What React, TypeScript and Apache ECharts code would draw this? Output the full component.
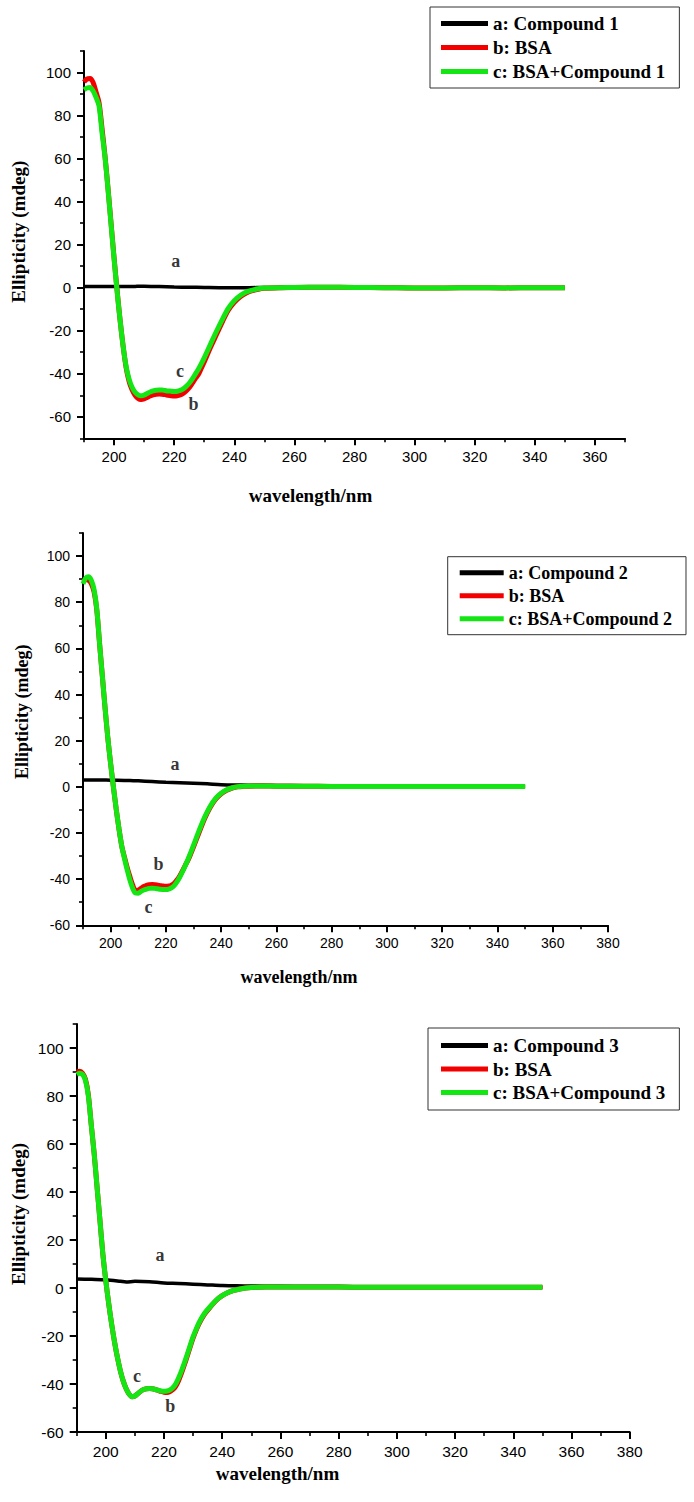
import React, { useEffect, useRef } from "react";
import * as echarts from "echarts";

// ---------- data ----------
const WL = [190,191,192,193,194,195,196,197,198,199,200,201,202,203,204,205,206,207,208,209,210,211,212,213,214,215,216,217,218,219,220,221,222,223,224,225,226,227,228,229,230,232,234,236,238,240,242,244,246,248,250,255,260,270,280,290,300,310,320,330,340,350];
const WL_A = [190,195,200,205,207,210,215,220,225,230,235,240,245,250,260,270,280,290,300,310,320,330,340,350];

// Panel 1
const P1_A = [0.6,0.5,0.5,0.5,0.6,0.7,0.5,0.3,0.2,0.1,0,0,0,0.1,0.1,0.2,0.2,0.1,0,-0.1,0,0,0,0];
const P1_B = [95.6,97,97.2,95.5,91,86,74,61,46,30,14,-1,-15,-27,-37,-43.5,-47.5,-50,-51.5,-52,-51.7,-51,-50.3,-49.8,-49.5,-49.4,-49.5,-49.7,-50,-50.2,-50.3,-50.2,-49.8,-49.1,-48,-46.5,-44.5,-42.3,-40.5,-37.5,-34.5,-28,-22,-16,-10.5,-6.8,-4.2,-2.5,-1.4,-0.7,-0.3,0,0.1,0.2,0.1,0,-0.2,-0.1,0,-0.1,0,0];
const P1_C = [92,92.8,93,91.5,88.5,84.5,72,60.5,45.5,29.5,13.5,-1.5,-15,-27,-36.5,-42.5,-46.3,-48.6,-49.8,-50.2,-49.9,-49.2,-48.5,-48,-47.7,-47.6,-47.6,-47.8,-48,-48.1,-48.2,-48.1,-47.7,-47,-45.9,-44.4,-42.5,-40.3,-38,-35.4,-32.6,-26.5,-20.5,-14.8,-9.6,-6,-3.6,-2,-1.1,-0.5,-0.2,0,0.1,0.2,0.1,0,-0.1,-0.1,0,-0.1,0,0];

// Panel 2
const P2_A = [3,3,2.9,2.8,2.7,2.6,2.3,2,1.8,1.6,1.3,0.9,0.8,0.7,0.6,0.5,0.4,0.4,0.3,0.3,0.3,0.3,0.2,0.2];
const P2_B = [89,89.8,89.5,88,84.5,76.5,62,48,34,21,10,0,-9.5,-18,-25.5,-30.5,-35,-39,-42.6,-44.9,-44.8,-44,-43.2,-42.7,-42.4,-42.3,-42.4,-42.6,-42.8,-43,-43.1,-43,-42.6,-41.8,-40.4,-38.6,-36.4,-34,-31.8,-29,-26,-19.8,-13.8,-9,-5.4,-3,-1.5,-0.5,0,0.2,0.3,0.4,0.3,0.3,0.2,0.1,0.1,0.1,0.2,0.1,0.1,0.1];
const P2_C = [88,90.5,91,89.5,85.5,77,62,48,34,21,10,0,-9.5,-18,-25.5,-31,-36,-40.5,-44,-46,-46.1,-45.3,-44.7,-44.3,-44,-43.9,-44,-44.2,-44.4,-44.5,-44.5,-44.3,-43.8,-42.8,-41.2,-39.2,-36.8,-34.2,-31.4,-28.4,-25.3,-19,-13.2,-8.5,-5,-2.8,-1.3,-0.4,0.1,0.3,0.4,0.4,0.3,0.3,0.2,0.1,0.1,0.1,0.2,0.1,0.1,0.1];

// Panel 3
const P3_A = [3.8,3.6,3.4,2.8,2.5,2.8,2.6,2.1,1.9,1.6,1.3,1,0.9,0.8,0.7,0.6,0.6,0.5,0.4,0.4,0.5,0.4,0.4,0.3];
const P3_B = [90,90.3,89.5,87,80.5,68,56,42,28,14,3,-6.5,-15,-22.5,-29,-34.5,-38.8,-42,-44.2,-45.3,-45,-44,-43,-42.3,-42,-41.9,-42,-42.3,-42.7,-43.1,-43.4,-43.5,-43.2,-42.4,-41,-38.6,-35.5,-32,-28.3,-24.5,-20.8,-15,-10.8,-7.8,-5.1,-3.2,-1.9,-1,-0.4,0,0.2,0.4,0.4,0.4,0.4,0.3,0.3,0.3,0.3,0.3,0.3,0.3];
const P3_C = [89,89.5,89,86.5,80,68,56,42,28,14,3,-6.5,-15,-22.5,-29,-34.5,-38.8,-42,-44.2,-45.3,-45,-44,-43,-42.3,-42,-41.9,-42,-42.3,-42.6,-42.9,-43,-42.9,-42.5,-41.6,-40,-37.5,-34.5,-31.2,-27.6,-23.9,-20.3,-14.5,-10.4,-7.6,-5,-3.2,-1.9,-1,-0.4,0,0.2,0.4,0.4,0.4,0.4,0.3,0.3,0.3,0.3,0.3,0.3,0.3];

const NAMES_1 = ["a: Compound 1", "b: BSA", "c: BSA+Compound 1"];
const NAMES_2 = ["a: Compound 2", "b: BSA", "c: BSA+Compound 2"];
const NAMES_3 = ["a: Compound 3", "b: BSA", "c: BSA+Compound 3"];

const LBL_1 = [{ name: "a", value: [220.5, 12.4] }, { name: "c", value: [221.9, -38.8] }, { name: "b", value: [226.4, -54] }];
const LBL_2 = [{ name: "a", value: [223.3, 9.9] }, { name: "b", value: [217.3, -33.6] }, { name: "c", value: [213.7, -52] }];
const LBL_3 = [{ name: "a", value: [218.6, 13.6] }, { name: "c", value: [210.7, -36.5] }, { name: "b", value: [222.1, -49] }];

const X_MAJOR_1 = [200, 220, 240, 260, 280, 300, 320, 340, 360];
const X_MINOR_1 = [190, 210, 230, 250, 270, 290, 310, 330, 350, 370];
const X_MAJOR_23 = [200, 220, 240, 260, 280, 300, 320, 340, 360, 380];
const X_MINOR_23 = [190, 210, 230, 250, 270, 290, 310, 330, 350, 370];
const Y_MAJOR = [-60, -40, -20, 0, 20, 40, 60, 80, 100];
const Y_MINOR_1 = [-70, -50, -30, -10, 10, 30, 50, 70, 90, 110];
const Y_MINOR_23 = [-50, -30, -10, 10, 30, 50, 70, 90, 110];

const X_NAME = "wavelength/nm";
const Y_NAME = "Ellipticity (mdeg)";

const pairs = (xs: number[], ys: number[]) => xs.map((x, i) => [x, ys[i]]);

const SERIF = "Liberation Serif";
const SANS = "Liberation Sans";
const RED = "#f20000";
const GREEN = "#14e614";

// ---------- layout ----------
const PANELS = [
  {
    grid: { left: 84, top: 51, width: 541, height: 387.3 },
    xMax: 370, yMin: -70, yMax: 110,
    xMaj: X_MAJOR_1, xMin: X_MINOR_1, yMaj: Y_MAJOR, yMinT: Y_MINOR_1,
    tickFont: 15, a: P1_A, b: P1_B, c: P1_C, names: NAMES_1, lbl: LBL_1,
    legend: { left: 430, top: 7, padding: [7, 14, 7, 11], itemWidth: 47, itemGap: 5, fontSize: 19 },
    xName: [310.5, 495], yName: [18.3, 231.7], nameFont: 19,
  },
  {
    grid: { left: 83, top: 533, width: 525, height: 392.3 },
    xMax: 380, yMin: -60, yMax: 110,
    xMaj: X_MAJOR_23, xMin: X_MINOR_23, yMaj: Y_MAJOR, yMinT: Y_MINOR_23,
    tickFont: 14, a: P2_A, b: P2_B, c: P2_C, names: NAMES_2, lbl: LBL_2,
    legend: { left: 447.7, top: 556.7, padding: [7, 14, 7, 12], itemWidth: 44, itemGap: 5, fontSize: 18 },
    xName: [299, 977], yName: [21.7, 711.7], nameFont: 18,
  },
  {
    grid: { left: 76.7, top: 1024, width: 553, height: 408 },
    xMax: 380, yMin: -60, yMax: 110,
    xMaj: X_MAJOR_23, xMin: X_MINOR_23, yMaj: Y_MAJOR, yMinT: Y_MINOR_23,
    tickFont: 15.5, a: P3_A, b: P3_B, c: P3_C, names: NAMES_3, lbl: LBL_3,
    legend: { left: 428, top: 1028, padding: [8, 14, 8, 13], itemWidth: 47, itemGap: 4.5, fontSize: 19 },
    xName: [277.5, 1473], yName: [18.3, 1214], nameFont: 19,
  },
];

function buildOption() {
  const grid: any[] = [];
  const xAxis: any[] = [];
  const yAxis: any[] = [];
  const series: any[] = [];
  const legend: any[] = [];
  const graphic: any[] = [];

  PANELS.forEach((p, i) => {
    grid.push({ ...p.grid });
    const axLine = { show: true, onZero: false, lineStyle: { color: "#000", width: 2 } };
    const lbl = { color: "#000", fontFamily: SANS, fontSize: p.tickFont };
    // major x
    xAxis.push({
      type: "value", gridIndex: i, min: 190, max: p.xMax, position: "bottom", offset: 0,
      axisLine: axLine,
      axisTick: { show: true, inside: false, length: 7, customValues: p.xMaj, lineStyle: { color: "#000", width: 2 } },
      axisLabel: { ...lbl, margin: 11, customValues: p.xMaj },
      splitLine: { show: false },
    });
    // minor x
    xAxis.push({
      type: "value", gridIndex: i, min: 190, max: p.xMax, position: "bottom", offset: 0,
      axisLine: { show: false, onZero: false },
      axisTick: { show: true, inside: false, length: 4, customValues: p.xMin, lineStyle: { color: "#000", width: 1.6 } },
      axisLabel: { show: false },
      splitLine: { show: false },
    });
    yAxis.push({
      type: "value", gridIndex: i, min: p.yMin, max: p.yMax, position: "left", offset: 0,
      axisLine: axLine,
      axisTick: { show: true, inside: false, length: 7, customValues: p.yMaj, lineStyle: { color: "#000", width: 2 } },
      axisLabel: { ...lbl, margin: 13, customValues: p.yMaj },
      splitLine: { show: false },
    });
    yAxis.push({
      type: "value", gridIndex: i, min: p.yMin, max: p.yMax, position: "left", offset: 0,
      axisLine: { show: false, onZero: false },
      axisTick: { show: true, inside: false, length: 4, customValues: p.yMinT, lineStyle: { color: "#000", width: 1.6 } },
      axisLabel: { show: false },
      splitLine: { show: false },
    });

    const xi = 2 * i;
    const yi = 2 * i;
    series.push({
      type: "line", name: p.names[0], xAxisIndex: xi, yAxisIndex: yi,
      data: pairs(WL_A, p.a), showSymbol: false, symbol: "none", smooth: 0.3,
      lineStyle: { color: "#000", width: 3.5 }, itemStyle: { color: "#000" }, z: 2,
    });
    series.push({
      type: "line", name: p.names[1], xAxisIndex: xi, yAxisIndex: yi,
      data: pairs(WL, p.b), showSymbol: false, symbol: "none", smooth: 0.3,
      lineStyle: { color: RED, width: 5 }, itemStyle: { color: RED }, z: 3,
    });
    series.push({
      type: "line", name: p.names[2], xAxisIndex: xi, yAxisIndex: yi,
      data: pairs(WL, p.c), showSymbol: false, symbol: "none", smooth: 0.3,
      lineStyle: { color: GREEN, width: 5 }, itemStyle: { color: GREEN }, z: 4,
    });
    series.push({
      type: "scatter", name: "labels" + (i + 1), xAxisIndex: xi, yAxisIndex: yi,
      data: p.lbl, symbolSize: 1, itemStyle: { color: "rgba(0,0,0,0)" }, z: 5,
      label: {
        show: true, position: "inside", formatter: "{b}", color: "#000",
        fontFamily: SERIF, fontWeight: "bold", fontSize: 18,
      },
    });

    legend.push({
      orient: "vertical",
      left: p.legend.left, top: p.legend.top,
      padding: p.legend.padding,
      borderColor: "#333", borderWidth: 1,
      icon: "rect", itemWidth: p.legend.itemWidth, itemHeight: 5,
      itemGap: p.legend.itemGap,
      selectedMode: false,
      data: p.names,
      textStyle: { color: "#000", fontFamily: SERIF, fontWeight: "bold", fontSize: p.legend.fontSize },
    });

    graphic.push({
      type: "text", x: p.xName[0], y: p.xName[1],
      style: {
        text: X_NAME, fill: "#000", fontFamily: SERIF, fontWeight: "bold",
        fontSize: p.nameFont, align: "center", verticalAlign: "middle",
      },
    });
    graphic.push({
      type: "text", x: p.yName[0], y: p.yName[1], rotation: Math.PI / 2,
      style: {
        text: Y_NAME, fill: "#000", fontFamily: SERIF, fontWeight: "bold",
        fontSize: p.nameFont, align: "center", verticalAlign: "middle",
      },
    });
  });

  return {
    animation: false,
    backgroundColor: "#fff",
    grid, xAxis, yAxis, series, legend, graphic,
  };
}

export default function App() {
  const ref = useRef<HTMLDivElement>(null);
  useEffect(() => {
    document.body.style.margin = "0";
    if (!ref.current) return;
    const chart = echarts.init(ref.current, null, { renderer: "svg" });
    chart.setOption(buildOption() as any);
    return () => chart.dispose();
  }, []);
  return <div ref={ref} style={{ width: 694, height: 1502 }} />;
}
